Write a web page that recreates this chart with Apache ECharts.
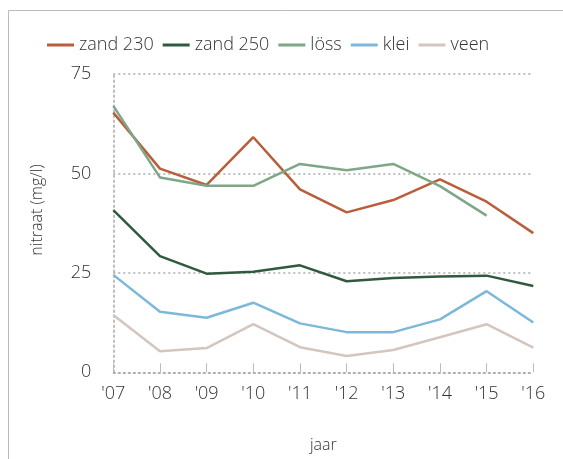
<!DOCTYPE html>
<html>
<head>
<meta charset="utf-8">
<script src="https://cdn.jsdelivr.net/npm/echarts@6/dist/echarts.min.js"></script>
<style>
html,body{margin:0;padding:0;background:#fff;}
#c{width:563px;height:459px;}
</style>
</head>
<body>
<div id="c"></div>
<script>
const years = ["'07","'08","'09","'10","'11","'12","'13","'14","'15","'16"];
const zand230 = [65.3, 51.2, 47.1, 59.1, 46.0, 40.2, 43.3, 48.5, 42.9, 35.0];
const zand250 = [40.8, 29.2, 24.8, 25.3, 26.9, 22.9, 23.7, 24.1, 24.3, 21.7];
const loss = [67.0, 49.0, 46.9, 46.9, 52.4, 50.8, 52.4, 46.8, 39.4, null];
const klei = [24.5, 15.2, 13.7, 17.5, 12.3, 10.1, 10.1, 13.3, 20.4, 12.5];
const veen = [14.4, 5.3, 6.1, 12.1, 6.3, 4.1, 5.6, 8.8, 12.1, 6.2];
const yTicks = [0, 25, 50, 75];

const font = '"Open Sans", Lato, sans-serif';
const txt = '#333';
const fw = 300;
function s(name, data, color) {
  return {name, type:'line', data, symbol:'none', smooth:false,
    lineStyle:{color, width:2.5}, itemStyle:{color}, connectNulls:false};
}
const chart = echarts.init(document.getElementById('c'));
chart.setOption({
  animation:false,
  textStyle:{fontFamily:font, fontWeight:fw},
  legend:{top:31, left:42, itemWidth:27, itemHeight:3, itemGap:9, icon:'rect',
    textStyle:{fontFamily:font, fontWeight:fw, fontSize:18, color:txt},
    data:['zand 230','zand 250','löss','klei','veen']},
  grid:{left:113.3, right:29.7, top:74, bottom:86.7},
  graphic:[
    {type:'rect', shape:{x:8.5, y:10.5, width:700, height:600}, style:{fill:null, stroke:'#bbb', lineWidth:1}},
    {type:'text', x:37, y:210, rotation:Math.PI/2, style:{text:'nitraat (mg/l)', font:'300 16px '+font, fill:txt, align:'center', verticalAlign:'middle'}}
  ],
  xAxis:{type:'category', data:years, boundaryGap:false,
    name:'jaar', nameLocation:'middle', nameGap:65,
    nameTextStyle:{fontFamily:font, fontWeight:fw, fontSize:16, color:txt},
    axisLine:{lineStyle:{color:'#aaa', type:[2,3], width:1.5}},
    axisTick:{inside:true, length:9, lineStyle:{color:'#bbb'}},
    axisLabel:{fontFamily:font, fontWeight:fw, fontSize:18, color:txt, margin:13}},
  yAxis:{type:'value', min:0, max:75, interval:25,
    axisLine:{show:true, lineStyle:{color:'#aaa', type:[2,3], width:1.5}},
    axisTick:{show:false},
    axisLabel:{fontFamily:font, fontWeight:fw, fontSize:18, color:txt, margin:22,
      formatter:v => yTicks.includes(v) ? String(v) : ''},
    splitLine:{lineStyle:{color:'#aaa', type:[2,3], width:1.5}}},
  series:[
    s('zand 230', zand230, '#b95d3a'),
    s('zand 250', zand250, '#2f5a3d'),
    s('löss', loss, '#7ea787'),
    s('klei', klei, '#7cb8d9'),
    s('veen', veen, '#d3c6bf')
  ]
});
</script>
</body>
</html>
